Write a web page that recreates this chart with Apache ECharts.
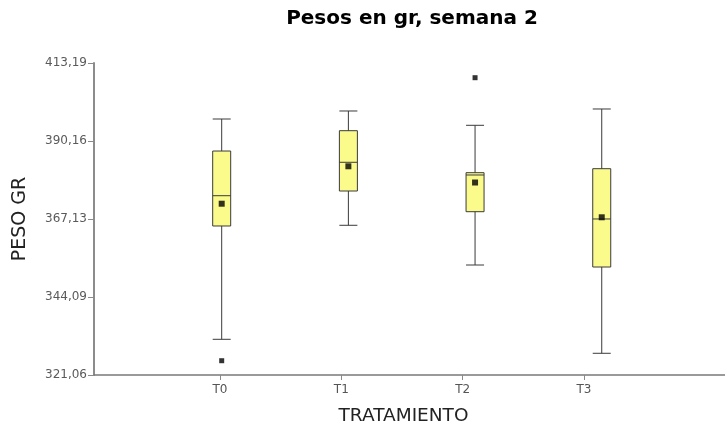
<!DOCTYPE html>
<html>
<head>
<meta charset="utf-8">
<script src="https://cdn.jsdelivr.net/npm/echarts@6/dist/echarts.min.js"></script>
<style>
  html, body { margin: 0; padding: 0; background: #ffffff; }
  #chart { width: 725px; height: 429px; }
</style>
</head>
<body>
<div id="chart"></div>
<script>
// Treatments
const categories = ['T0', 'T1', 'T2', 'T3'];

// Per-treatment summaries (grams)
const whiskerLow  = [331.60, 365.27, 353.54, 327.47];
const q1          = [365.06, 375.39, 369.28, 352.95];
const medians     = [374.00, 383.87, 380.12, 367.13];
const q3          = [387.20, 393.20, 380.80, 381.98];
const whiskerHigh = [396.65, 399.02, 394.79, 399.61];
const means       = [371.64, 382.69, 377.90, 367.63];

// Points outside the whiskers: treatment index and weight
const outlierGroup  = [0, 2];
const outlierValues = [325.28, 408.85];

// Weight axis ticks
const yTickValues = [321.06, 344.09, 367.13, 390.16, 413.19];
const yTickLabels = ['321,06', '344,09', '367,13', '390,16', '413,19'];

const boxData = categories.map((c, i) => [i, whiskerLow[i], q1[i], medians[i], q3[i], whiskerHigh[i]]);
const meanData = categories.map((c, i) => [i, means[i]]);
const outlierData = outlierGroup.map((g, i) => [g, outlierValues[i]]);

const labelFont = 'DejaVu Sans';

const chart = echarts.init(document.getElementById('chart'), null, { renderer: 'canvas' });
chart.setOption({
  backgroundColor: '#ffffff',
  animation: false,
  title: {
    text: 'Pesos en gr, semana 2',
    left: 412,
    top: 9,
    padding: 0,
    textAlign: 'center',
    textStyle: { fontFamily: labelFont, fontWeight: 'bold', fontSize: 20, color: '#000000' }
  },
  grid: { left: 94, right: 0, top: 63, bottom: 54, containLabel: false, outerBoundsMode: 'none' },
  xAxis: [
    {
      // placement of the boxes
      type: 'value',
      position: 'bottom',
      min: -1.008,
      max: 3.973,
      show: false,
      splitLine: { show: false }
    },
    {
      // treatment ticks and labels
      type: 'value',
      position: 'bottom',
      min: -1.0385,
      max: 4.162,
      axisLine: { show: true, onZero: false, lineStyle: { color: '#7a7a7a', width: 1.5 } },
      axisTick: { show: true, customValues: [0, 1, 2, 3], length: 5, lineStyle: { color: '#8a8a8a', width: 1 } },
      axisLabel: {
        customValues: [0, 1, 2, 3],
        formatter: v => categories[Math.round(v)] || '',
        color: '#555555',
        fontFamily: labelFont,
        fontSize: 12,
        margin: 9
      },
      splitLine: { show: false },
      name: 'TRATAMIENTO',
      nameLocation: 'middle',
      nameGap: 32,
      nameTextStyle: { fontFamily: labelFont, fontSize: 18.5, color: '#222222', padding: [0, 12, 0, 0] }
    }
  ],
  yAxis: {
    type: 'value',
    min: 321.06,
    max: 413.19,
    axisLine: { show: true, onZero: false, lineStyle: { color: '#8c8c8c', width: 2 } },
    axisTick: { show: true, customValues: yTickValues, length: 6, lineStyle: { color: '#8a8a8a', width: 1 } },
    axisLabel: {
      customValues: yTickValues,
      formatter: v => {
        let best = 0;
        yTickValues.forEach((t, i) => { if (Math.abs(t - v) < Math.abs(yTickValues[best] - v)) best = i; });
        return yTickLabels[best];
      },
      color: '#5a5a5a',
      fontFamily: labelFont,
      fontSize: 12,
      margin: 7
    },
    splitLine: { show: false },
    name: 'PESO GR',
    nameLocation: 'middle',
    nameGap: 64,
    nameTextStyle: { fontFamily: labelFont, fontSize: 19, color: '#222222' }
  },
  series: [
    {
      type: 'boxplot',
      xAxisIndex: 0,
      data: boxData,
      boxWidth: [18, 18],
      itemStyle: { color: '#fbfb8c', borderColor: '#3a3a3a', borderWidth: 1 },
      emphasis: { disabled: true },
      silent: true
    },
    {
      type: 'scatter',
      xAxisIndex: 0,
      data: meanData,
      symbol: 'rect',
      symbolSize: 6,
      itemStyle: { color: '#000000' },
      silent: true
    },
    {
      type: 'scatter',
      xAxisIndex: 0,
      data: outlierData,
      symbol: 'rect',
      symbolSize: 5,
      itemStyle: { color: '#000000' },
      silent: true
    }
  ]
});
</script>
</body>
</html>
